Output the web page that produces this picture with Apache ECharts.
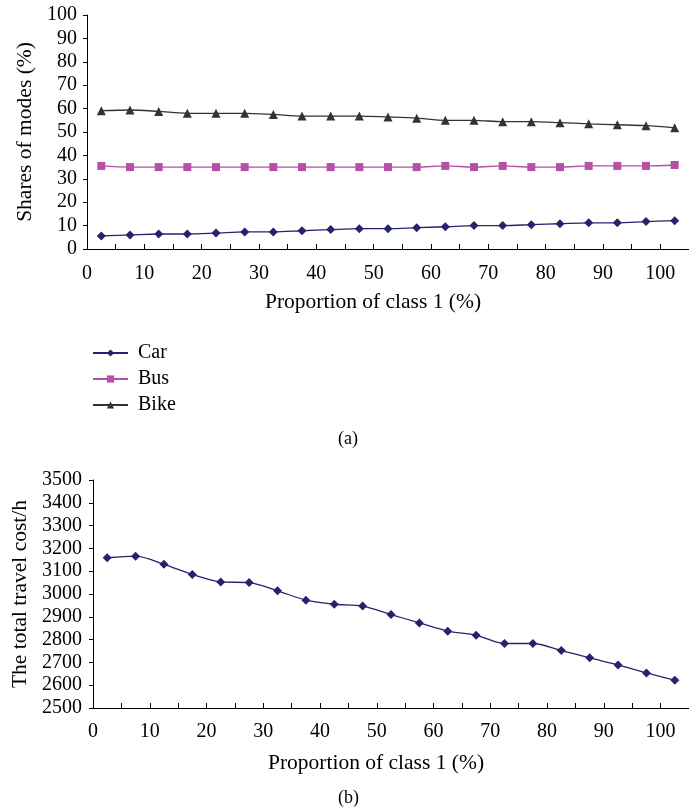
<!DOCTYPE html>
<html><head><meta charset="utf-8">
<script src="https://cdn.jsdelivr.net/npm/echarts@6/dist/echarts.min.js"></script>
<style>html,body{margin:0;padding:0;background:#fff}#c{width:689px;height:812px}</style>
</head><body><div id="c"></div>
<script>
const proportion = [2.5,7.5,12.5,17.5,22.5,27.5,32.5,37.5,42.5,47.5,52.5,57.5,62.5,67.5,72.5,77.5,82.5,87.5,92.5,97.5,102.5];
const carShare  = [5.6,6.0,6.4,6.4,6.8,7.3,7.3,7.8,8.3,8.7,8.7,9.1,9.5,10.0,10.0,10.4,10.8,11.2,11.2,11.7,12.1];
const busShare  = [35.5,35,35,35,35,35,35,35,35,35,35,35,35.5,35,35.5,35,35,35.5,35.5,35.5,35.9];
const bikeShare = [59.1,59.4,58.8,58,58,58,57.5,56.8,56.8,56.8,56.4,55.9,55,55,54.4,54.4,54,53.5,53.1,52.7,51.8];
const totalCost = [3159,3166,3130,3086,3053,3050,3014,2973,2955,2947,2910,2873,2837,2819,2783,2783,2752,2720,2689,2654,2622];
const xTicks = [0,10,20,30,40,50,60,70,80,90,100];

const F = 'Liberation Serif';
const pair = (ys) => proportion.map((x,i)=>[x, ys[i]]);
const xAxisBase = (gi, margin, gap) => ({
  type:'value', gridIndex:gi, min:0, max:105, interval:5,
  axisLine:{lineStyle:{color:'#000',width:1}},
  axisTick:{inside:true,length:5,lineStyle:{color:'#000'}},
  splitLine:{show:false},
  axisLabel:{color:'#000',fontFamily:F,fontSize:20,margin:margin,showMaxLabel:false,
    formatter:(v)=> xTicks.indexOf(v)>=0 ? String(v) : ''},
  name:'Proportion of class 1 (%)', nameLocation:'middle', nameGap:gap,
  nameTextStyle:{color:'#000',fontFamily:F,fontSize:21.5,padding:[0,30,0,0]}
});
const C_CAR='#24246e', C_BUS='#b450a5', C_BIKE='#333333';
const option = {
  animation:false,
  grid:[
    {left:87, top:15, width:605, height:234},
    {left:93, top:480, width:604, height:228}
  ],
  xAxis:[xAxisBase(0,15,42), xAxisBase(1,14,44)],
  yAxis:[
    {type:'value',gridIndex:0,min:0,max:100,interval:10,
     axisLine:{show:true,lineStyle:{color:'#000'}},
     axisTick:{show:true,length:4,lineStyle:{color:'#000'}},
     splitLine:{show:false},
     axisLabel:{color:'#000',fontFamily:F,fontSize:20,margin:10},
     name:'Shares of modes (%)',nameLocation:'middle',nameGap:50,
     nameTextStyle:{color:'#000',fontFamily:F,fontSize:21.5}},
    {type:'value',gridIndex:1,min:2500,max:3500,interval:100,
     axisLine:{show:true,lineStyle:{color:'#000'}},
     axisTick:{show:true,length:4,lineStyle:{color:'#000'}},
     splitLine:{show:false},
     axisLabel:{color:'#000',fontFamily:F,fontSize:20,margin:11,formatter:(v)=>String(v)},
     name:'The total travel cost/h',nameLocation:'middle',nameGap:53,
     nameTextStyle:{color:'#000',fontFamily:F,fontSize:21.5}}
  ],
  legend:{
    data:['Car','Bus','Bike'], orient:'vertical', left:87, top:338,
    itemWidth:35, itemHeight:9, itemGap:6,
    textStyle:{color:'#000',fontFamily:F,fontSize:20,padding:[0,0,0,5]}
  },
  title:[
    {text:'(a)',left:333,top:425,textStyle:{color:'#000',fontFamily:F,fontSize:18,fontWeight:'normal'}},
    {text:'(b)',left:333,top:784,textStyle:{color:'#000',fontFamily:F,fontSize:18,fontWeight:'normal'}}
  ],
  series:[
    {name:'Car',type:'line',xAxisIndex:0,yAxisIndex:0,data:pair(carShare),smooth:0.3,
     symbol:'diamond',symbolSize:9,itemStyle:{color:C_CAR},lineStyle:{color:C_CAR,width:1.3}},
    {name:'Bus',type:'line',xAxisIndex:0,yAxisIndex:0,data:pair(busShare),smooth:0.3,
     symbol:'rect',symbolSize:8,itemStyle:{color:C_BUS},lineStyle:{color:C_BUS,width:1.3}},
    {name:'Bike',type:'line',xAxisIndex:0,yAxisIndex:0,data:pair(bikeShare),smooth:0.3,
     symbol:'triangle',symbolSize:9,itemStyle:{color:C_BIKE},lineStyle:{color:C_BIKE,width:1.3}},
    {name:'Total travel cost',type:'line',xAxisIndex:1,yAxisIndex:1,data:pair(totalCost),smooth:0.3,
     symbol:'diamond',symbolSize:9,itemStyle:{color:C_CAR},lineStyle:{color:C_CAR,width:1.3}}
  ]
};
echarts.init(document.getElementById('c')).setOption(option);
</script></body></html>
